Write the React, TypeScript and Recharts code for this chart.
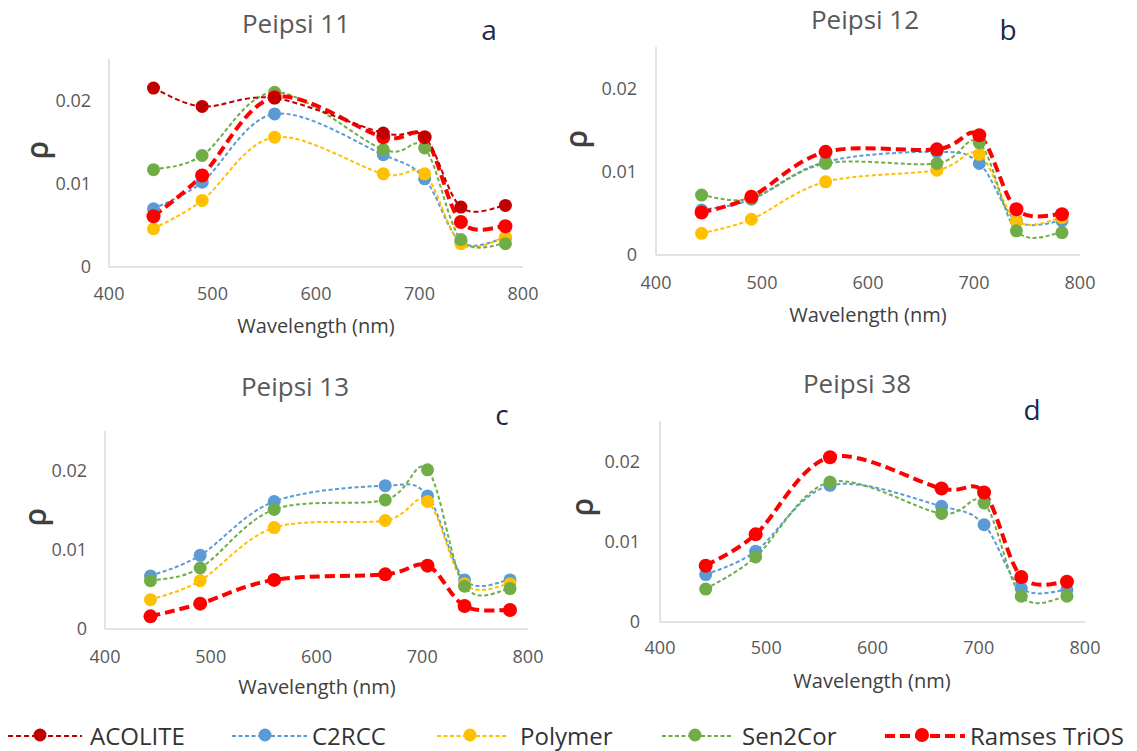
import { Line, LineChart, XAxis, YAxis } from "recharts";

const W = 1137;
const H = 751;

const wavelengths = [443, 490, 560, 665, 705, 740, 783];
const xTicks = [400, 500, 600, 700, 800];
const yTicks = [0, 0.01, 0.02];

// Peipsi 11
const p11Acolite = [0.0215, 0.0193, 0.0203, 0.0161, 0.0156, 0.0072, 0.0074];
const p11C2rcc = [0.007, 0.0102, 0.0184, 0.0135, 0.0106, 0.003, 0.0035];
const p11Polymer = [0.0046, 0.008, 0.0156, 0.0112, 0.0112, 0.0028, 0.0036];
const p11Sen2cor = [0.0117, 0.0134, 0.021, 0.0141, 0.0143, 0.0033, 0.0028];
const p11Ramses = [0.0061, 0.011, 0.0204, 0.0156, 0.0156, 0.0054, 0.0049];

// Peipsi 12
const p12C2rcc = [0.0054, 0.0067, 0.0112, 0.0124, 0.011, 0.0041, 0.0041];
const p12Polymer = [0.0026, 0.0043, 0.0088, 0.0102, 0.0121, 0.0041, 0.0045];
const p12Sen2cor = [0.0072, 0.0068, 0.011, 0.011, 0.0135, 0.0029, 0.0027];
const p12Ramses = [0.0051, 0.007, 0.0124, 0.0127, 0.0144, 0.0055, 0.0049];

// Peipsi 13
const p13C2rcc = [0.0067, 0.0093, 0.0161, 0.0181, 0.0168, 0.0062, 0.0062];
const p13Polymer = [0.0037, 0.0061, 0.0128, 0.0137, 0.0161, 0.0057, 0.0057];
const p13Sen2cor = [0.0061, 0.0077, 0.0151, 0.0163, 0.0201, 0.0054, 0.0051];
const p13Ramses = [0.0016, 0.0032, 0.0062, 0.0069, 0.008, 0.0029, 0.0024];

// Peipsi 38
const p38C2rcc = [0.0059, 0.0088, 0.017, 0.0144, 0.0121, 0.0042, 0.004];
const p38Sen2cor = [0.0041, 0.0081, 0.0174, 0.0135, 0.0148, 0.0032, 0.0032];
const p38Ramses = [0.007, 0.0109, 0.0205, 0.0166, 0.0161, 0.0056, 0.005];

type SeriesKey = "acolite" | "c2rcc" | "polymer" | "sen2cor" | "ramses";

const styles: Record<SeriesKey, { name: string; color: string; width: number; dash: string; r: number }> = {
  acolite: { name: "ACOLITE", color: "#C00000", width: 2, dash: "5 3", r: 6.5 },
  c2rcc: { name: "C2RCC", color: "#5B9BD5", width: 2, dash: "4 2.5", r: 6.5 },
  polymer: { name: "Polymer", color: "#FFC000", width: 2, dash: "4 2.5", r: 6.5 },
  sen2cor: { name: "Sen2Cor", color: "#70AD47", width: 2, dash: "4 2.5", r: 6.5 },
  ramses: { name: "Ramses TriOS", color: "#FF0000", width: 4, dash: "10 5", r: 7 },
};

const legendOrder: SeriesKey[] = ["acolite", "c2rcc", "polymer", "sen2cor", "ramses"];
const drawOrder: SeriesKey[] = ["c2rcc", "polymer", "sen2cor", "ramses", "acolite"];

type PanelDef = {
  title: string;
  letter: string;
  series: Partial<Record<SeriesKey, number[]>>;
  left: number;
  right: number;
  top: number;
  bottom: number;
  xGap: number;
  yGap: number;
  titleX: number;
  titleY: number;
  letterX: number;
  letterY: number;
  rhoX: number;
  rhoY: number;
  xLabelX: number;
  xLabelY: number;
};

const panels: PanelDef[] = [
  {
    title: "Peipsi 11", letter: "a",
    series: { acolite: p11Acolite, c2rcc: p11C2rcc, polymer: p11Polymer, sen2cor: p11Sen2cor, ramses: p11Ramses },
    left: 109, right: 523, top: 59, bottom: 267, xGap: 20, yGap: 18,
    titleX: 296, titleY: 33, letterX: 489, letterY: 40, rhoX: 36, rhoY: 150, xLabelX: 316, xLabelY: 333,
  },
  {
    title: "Peipsi 12", letter: "b",
    series: { c2rcc: p12C2rcc, polymer: p12Polymer, sen2cor: p12Sen2cor, ramses: p12Ramses },
    left: 656, right: 1080, top: 47, bottom: 255, xGap: 21, yGap: 19,
    titleX: 865, titleY: 29, letterX: 1008, letterY: 40, rhoX: 575, rhoY: 139, xLabelX: 868, xLabelY: 322,
  },
  {
    title: "Peipsi 13", letter: "c",
    series: { c2rcc: p13C2rcc, polymer: p13Polymer, sen2cor: p13Sen2cor, ramses: p13Ramses },
    left: 105, right: 528, top: 431, bottom: 629, xGap: 21, yGap: 18,
    titleX: 295, titleY: 396, letterX: 502, letterY: 425, rhoX: 34, rhoY: 517, xLabelX: 317, xLabelY: 694,
  },
  {
    title: "Peipsi 38", letter: "d",
    series: { c2rcc: p38C2rcc, sen2cor: p38Sen2cor, ramses: p38Ramses },
    left: 660, right: 1085, top: 421, bottom: 622, xGap: 19, yGap: 20,
    titleX: 857, titleY: 393, letterX: 1032, letterY: 420, rhoX: 581, rhoY: 507, xLabelX: 872, xLabelY: 688,
  },
];

// legend geometry: line start, line end, marker, text start
const legendPos: Record<SeriesKey, [number, number, number, number]> = {
  acolite: [8, 82, 40, 90],
  c2rcc: [232, 307, 265, 312],
  polymer: [437, 507, 470, 520],
  sen2cor: [662, 733, 695, 742],
  ramses: [885, 965, 922, 970],
};

// Excel-like smoothed line (Catmull-Rom through every point)
const excelSmooth = (context: any) => {
  let pts: number[][] = [];
  return {
    areaStart() {},
    areaEnd() {},
    lineStart() {
      pts = [];
    },
    point(x: number, y: number) {
      pts.push([+x, +y]);
    },
    lineEnd() {
      const n = pts.length;
      if (!n) return;
      context.moveTo(pts[0][0], pts[0][1]);
      for (let i = 0; i < n - 1; i++) {
        const p0 = pts[Math.max(i - 1, 0)];
        const p1 = pts[i];
        const p2 = pts[i + 1];
        const p3 = pts[Math.min(i + 2, n - 1)];
        context.bezierCurveTo(
          p1[0] + (p2[0] - p0[0]) / 6,
          p1[1] + (p2[1] - p0[1]) / 6,
          p2[0] - (p3[0] - p1[0]) / 6,
          p2[1] - (p3[1] - p1[1]) / 6,
          p2[0],
          p2[1]
        );
      }
    },
  };
};

const axisLine = { stroke: "#D9D9D9", strokeWidth: 1.5 };
const tickStyle = { fill: "#595959", fontSize: 18 };
const Y_AXIS_W = 60;
const X_AXIS_H = 40;

function Panel({ p }: { p: PanelDef }) {
  const rows = wavelengths.map((wl, i) => {
    const row: Record<string, number> = { wl };
    (Object.keys(p.series) as SeriesKey[]).forEach((k) => {
      row[k] = p.series[k]![i];
    });
    return row;
  });

  return (
    <div style={{ position: "absolute", left: 0, top: 0 }}>
      <LineChart
        width={W}
        height={H}
        data={rows}
        margin={{ top: p.top, left: p.left - Y_AXIS_W, right: W - p.right, bottom: H - p.bottom - X_AXIS_H }}
      >
        <XAxis
          dataKey="wl"
          type="number"
          domain={[400, 800]}
          ticks={xTicks}
          interval={0}
          height={X_AXIS_H}
          tickSize={0}
          tickMargin={p.xGap}
          tickLine={false}
          axisLine={axisLine}
          tick={tickStyle}
        />
        <YAxis
          type="number"
          domain={[0, 0.025]}
          ticks={yTicks}
          interval={0}
          width={Y_AXIS_W}
          tickSize={0}
          tickMargin={p.yGap}
          tickLine={false}
          axisLine={axisLine}
          tick={tickStyle}
          tickFormatter={(v: number) => (v === 0 ? "0" : String(v))}
        />
        {drawOrder
          .filter((k) => p.series[k])
          .map((k) => {
            const s = styles[k];
            return (
              <Line
                key={k}
                dataKey={k}
                type={excelSmooth as any}
                stroke={s.color}
                strokeWidth={s.width}
                strokeDasharray={s.dash}
                dot={{ r: s.r, fill: s.color, stroke: "none", strokeWidth: 0 }}
                activeDot={false}
                isAnimationActive={false}
              />
            );
          })}
      </LineChart>
    </div>
  );
}

export default function App() {
  return (
    <div
      style={{
        position: "absolute",
        left: 0,
        top: 0,
        width: W,
        height: H,
        background: "#fff",
        fontFamily: "'Open Sans', sans-serif",
        overflow: "hidden",
      }}
    >
      {panels.map((p) => (
        <Panel key={p.title} p={p} />
      ))}
      <svg width={W} height={H} style={{ position: "absolute", left: 0, top: 0, pointerEvents: "none" }}>
        {panels.map((p) => (
          <g key={p.title}>
            <text x={p.titleX} y={p.titleY} textAnchor="middle" fontSize={26} fill="#595959">
              {p.title}
            </text>
            <text x={p.letterX} y={p.letterY} textAnchor="middle" fontSize={28} fill="#1C2A48">
              {p.letter}
            </text>
            <text
              x={p.rhoX}
              y={p.rhoY}
              textAnchor="middle"
              dominantBaseline="central"
              fontSize={30}
              fontWeight={600}
              fill="#404040"
              transform={`rotate(-90 ${p.rhoX} ${p.rhoY})`}
            >
              ρ
            </text>
            <text x={p.xLabelX} y={p.xLabelY} textAnchor="middle" fontSize={20} fill="#404040">
              Wavelength (nm)
            </text>
          </g>
        ))}
        {legendOrder.map((k) => {
          const s = styles[k];
          const [x1, x2, mx, tx] = legendPos[k];
          return (
            <g key={k}>
              <line x1={x1} x2={x2} y1={736} y2={736} stroke={s.color} strokeWidth={s.width} strokeDasharray={s.dash} />
              <circle cx={mx} cy={735} r={s.r} fill={s.color} />
              <text x={tx} y={745} fontSize={24} fill="#333">
                {s.name}
              </text>
            </g>
          );
        })}
      </svg>
    </div>
  );
}
